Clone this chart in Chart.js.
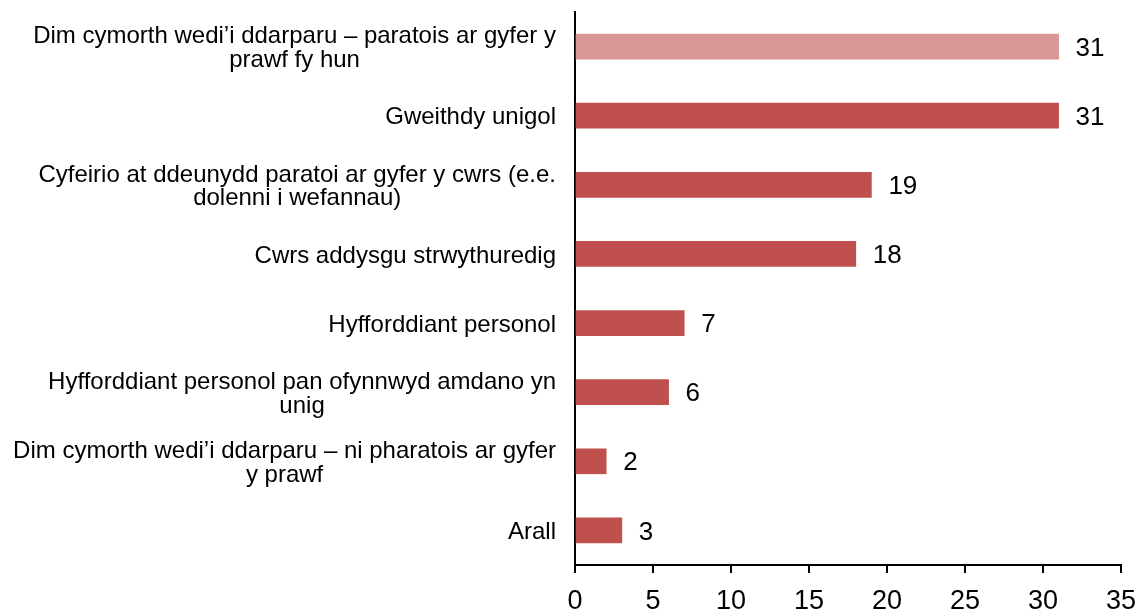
<!DOCTYPE html>
<html>
<head>
<meta charset="utf-8">
<script src="https://cdn.jsdelivr.net/npm/chart.js@4"></script>
<style>
  html, body { margin: 0; padding: 0; background: #fff; }
  #wrap { width: 1144px; height: 612px; }
</style>
</head>
<body>
<div id="wrap"><canvas id="supportChart"></canvas></div>
<script>
// categories (top to bottom) and counts
const categories = [
  ["Dim cymorth wedi\u2019i ddarparu \u2013 paratois ar gyfer y", "prawf fy hun"],
  "Gweithdy unigol",
  ["Cyfeirio at ddeunydd paratoi ar gyfer y cwrs (e.e.", "dolenni i wefannau)"],
  "Cwrs addysgu strwythuredig",
  "Hyfforddiant personol",
  ["Hyfforddiant personol pan ofynnwyd amdano yn", "unig"],
  ["Dim cymorth wedi\u2019i ddarparu \u2013 ni pharatois ar gyfer", "y prawf"],
  "Arall",
];
const counts = [31, 31, 19, 18, 7, 6, 2, 3];
const barColors = ["#D99694", "#C0504D", "#C0504D", "#C0504D", "#C0504D", "#C0504D", "#C0504D", "#C0504D"];

const FONT = "'Liberation Sans', Arial, sans-serif";

// category labels: block right-aligned to the axis, lines centred within it
const categoryLabels = {
  id: "categoryLabels",
  afterDraw(chart) {
    const ctx = chart.ctx;
    const yScale = chart.scales.y;
    const rightEdge = 556;
    const lineGap = 23.4;
    ctx.save();
    ctx.font = "24px " + FONT;
    ctx.fillStyle = "#000";
    ctx.textAlign = "center";
    ctx.textBaseline = "middle";
    categories.forEach((label, i) => {
      const lines = Array.isArray(label) ? label : [label];
      const maxW = Math.max(...lines.map((l) => ctx.measureText(l).width));
      const cx = rightEdge - maxW / 2;
      const cy = yScale.getPixelForTick(i) + 2;
      lines.forEach((line, j) => {
        ctx.fillText(line, cx, cy + (j - (lines.length - 1) / 2) * lineGap);
      });
    });
    ctx.restore();
  },
};

// draws the value just past the end of each bar
const valueLabels = {
  id: "valueLabels",
  afterDatasetsDraw(chart) {
    const ctx = chart.ctx;
    const meta = chart.getDatasetMeta(0);
    ctx.save();
    ctx.font = "26px " + FONT;
    ctx.fillStyle = "#000";
    ctx.textAlign = "left";
    ctx.textBaseline = "middle";
    meta.data.forEach((bar, i) => {
      ctx.fillText(String(counts[i]), bar.x + 17, bar.y + 2);
    });
    ctx.restore();
  },
};

const ctx = document.getElementById("supportChart").getContext("2d");
const chart = new Chart(ctx, {
  type: "bar",
  data: {
    labels: categories,
    datasets: [
      {
        data: counts,
        backgroundColor: barColors,
        barThickness: 25,
      },
    ],
  },
  options: {
    indexAxis: "y",
    responsive: true,
    maintainAspectRatio: false,
    animation: false,
    layout: { padding: { top: 12, right: 23, left: 0, bottom: 0 } },
    plugins: {
      legend: { display: false },
      tooltip: { enabled: false },
    },
    scales: {
      x: {
        min: 0,
        max: 35,
        afterFit(scale) {
          scale.height = 47;
          scale.paddingRight = 0;
        },
        ticks: {
          stepSize: 5,
          color: "#000",
          padding: 12,
          font: { family: FONT, size: 27 },
        },
        grid: {
          drawOnChartArea: false,
          drawTicks: true,
          tickLength: 8,
          color: "#000",
          lineWidth: 2,
        },
        border: { color: "#000", width: 2 },
      },
      y: {
        afterFit(scale) {
          scale.width = 575;
        },
        ticks: { display: false },
        grid: { display: false },
        border: { color: "#000", width: 2 },
      },
    },
  },
  plugins: [categoryLabels, valueLabels],
});
</script>
</body>
</html>
